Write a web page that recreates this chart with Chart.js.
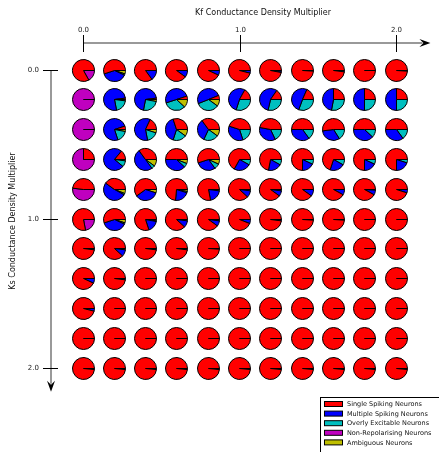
<!DOCTYPE html>
<html>
<head>
<meta charset="utf-8">
<script src="https://cdn.jsdelivr.net/npm/chart.js@4.4.0/dist/chart.umd.min.js"></script>
<style>
  html, body { margin: 0; padding: 0; background: #fff; }
  #wrap { position: relative; width: 439px; height: 452px; overflow: hidden; }
  #main { position: absolute; left: 0; top: 0; }
  .pie { position: absolute; }
</style>
</head>
<body>
<div id="wrap"><canvas id="main" width="439" height="452"></canvas></div>
<script>
// Grid values (columns = Kf multiplier, rows = Ks multiplier)
const kfValues = [0.0, 0.2, 0.4, 0.6, 0.8, 1.0, 1.2, 1.4, 1.6, 1.8, 2.0];
const ksValues = [0.0, 0.2, 0.4, 0.6, 0.8, 1.0, 1.2, 1.4, 1.6, 1.8, 2.0];
const tickValues = [0.0, 1.0, 2.0];

const categories = ['Single Spiking Neurons', 'Multiple Spiking Neurons', 'Overly Excitable Neurons',
  'Non-Repolarising Neurons', 'Ambiguous Neurons'];

// fraction of each neuron type, one row per Ks value
const singleSpiking = [
  [0.83, 0.55, 0.85, 0.90, 0.93, 0.96, 0.97, 0.99, 0.98, 1.00, 0.99],
  [0.00, 0.02, 0.02, 0.05, 0.06, 0.17, 0.15, 0.18, 0.25, 0.25, 0.25],
  [0.00, 0.05, 0.18, 0.30, 0.35, 0.45, 0.47, 0.50, 0.52, 0.50, 0.50],
  [0.25, 0.14, 0.35, 0.50, 0.55, 0.67, 0.72, 0.75, 0.70, 0.75, 0.75],
  [0.48, 0.40, 0.60, 0.75, 0.78, 0.88, 0.90, 0.90, 0.92, 0.92, 0.95],
  [0.78, 0.55, 0.80, 0.88, 0.90, 0.94, 0.98, 0.99, 0.99, 1.00, 1.00],
  [0.98, 0.88, 0.98, 0.98, 0.99, 1.00, 1.00, 1.00, 1.00, 1.00, 1.00],
  [0.93, 0.98, 1.00, 1.00, 1.00, 1.00, 1.00, 1.00, 1.00, 1.00, 1.00],
  [0.96, 1.00, 1.00, 1.00, 1.00, 1.00, 1.00, 1.00, 1.00, 1.00, 1.00],
  [1.00, 1.00, 1.00, 1.00, 1.00, 1.00, 1.00, 1.00, 1.00, 1.00, 1.00],
  [0.985, 0.985, 0.985, 0.985, 0.985, 0.985, 0.985, 0.985, 0.985, 0.985, 0.985]
];
const multipleSpiking = [
  [0.00, 0.38, 0.15, 0.10, 0.07, 0.04, 0.02, 0.01, 0.02, 0.00, 0.01],
  [0.00, 0.76, 0.70, 0.50, 0.50, 0.53, 0.55, 0.50, 0.47, 0.50, 0.50],
  [0.00, 0.75, 0.60, 0.40, 0.33, 0.35, 0.35, 0.35, 0.32, 0.38, 0.35],
  [0.00, 0.75, 0.50, 0.38, 0.30, 0.25, 0.20, 0.18, 0.22, 0.18, 0.20],
  [0.00, 0.52, 0.35, 0.22, 0.20, 0.10, 0.08, 0.10, 0.08, 0.07, 0.05],
  [0.00, 0.38, 0.17, 0.10, 0.08, 0.06, 0.02, 0.01, 0.01, 0.00, 0.00],
  [0.02, 0.10, 0.02, 0.02, 0.01, 0.00, 0.00, 0.00, 0.00, 0.00, 0.00],
  [0.07, 0.02, 0.00, 0.00, 0.00, 0.00, 0.00, 0.00, 0.00, 0.00, 0.00],
  [0.04, 0.00, 0.00, 0.00, 0.00, 0.00, 0.00, 0.00, 0.00, 0.00, 0.00],
  [0.00, 0.00, 0.00, 0.00, 0.00, 0.00, 0.00, 0.00, 0.00, 0.00, 0.00],
  [0.015, 0.015, 0.015, 0.015, 0.015, 0.015, 0.015, 0.015, 0.015, 0.015, 0.015]
];
const overlyExcitable = [
  [0.00, 0.02, 0.00, 0.00, 0.00, 0.00, 0.00, 0.00, 0.00, 0.00, 0.00],
  [0.00, 0.20, 0.25, 0.33, 0.34, 0.30, 0.28, 0.30, 0.28, 0.25, 0.25],
  [0.00, 0.17, 0.17, 0.20, 0.22, 0.20, 0.18, 0.15, 0.16, 0.12, 0.15],
  [0.00, 0.09, 0.05, 0.06, 0.08, 0.08, 0.08, 0.07, 0.08, 0.07, 0.05],
  [0.00, 0.02, 0.00, 0.02, 0.00, 0.02, 0.02, 0.00, 0.00, 0.01, 0.00],
  [0.00, 0.02, 0.01, 0.02, 0.01, 0.00, 0.00, 0.00, 0.00, 0.00, 0.00],
  [0.00, 0.00, 0.00, 0.00, 0.00, 0.00, 0.00, 0.00, 0.00, 0.00, 0.00],
  [0.00, 0.00, 0.00, 0.00, 0.00, 0.00, 0.00, 0.00, 0.00, 0.00, 0.00],
  [0.00, 0.00, 0.00, 0.00, 0.00, 0.00, 0.00, 0.00, 0.00, 0.00, 0.00],
  [0.00, 0.00, 0.00, 0.00, 0.00, 0.00, 0.00, 0.00, 0.00, 0.00, 0.00],
  [0.00, 0.00, 0.00, 0.00, 0.00, 0.00, 0.00, 0.00, 0.00, 0.00, 0.00]
];
const nonRepolarising = [
  [0.17, 0.00, 0.00, 0.00, 0.00, 0.00, 0.00, 0.00, 0.00, 0.00, 0.00],
  [1.00, 0.00, 0.00, 0.00, 0.00, 0.00, 0.00, 0.00, 0.00, 0.00, 0.00],
  [1.00, 0.00, 0.00, 0.00, 0.00, 0.00, 0.00, 0.00, 0.00, 0.00, 0.00],
  [0.75, 0.00, 0.00, 0.00, 0.00, 0.00, 0.00, 0.00, 0.00, 0.00, 0.00],
  [0.52, 0.00, 0.00, 0.00, 0.00, 0.00, 0.00, 0.00, 0.00, 0.00, 0.00],
  [0.22, 0.00, 0.00, 0.00, 0.00, 0.00, 0.00, 0.00, 0.00, 0.00, 0.00],
  [0.00, 0.00, 0.00, 0.00, 0.00, 0.00, 0.00, 0.00, 0.00, 0.00, 0.00],
  [0.00, 0.00, 0.00, 0.00, 0.00, 0.00, 0.00, 0.00, 0.00, 0.00, 0.00],
  [0.00, 0.00, 0.00, 0.00, 0.00, 0.00, 0.00, 0.00, 0.00, 0.00, 0.00],
  [0.00, 0.00, 0.00, 0.00, 0.00, 0.00, 0.00, 0.00, 0.00, 0.00, 0.00],
  [0.00, 0.00, 0.00, 0.00, 0.00, 0.00, 0.00, 0.00, 0.00, 0.00, 0.00]
];
const ambiguous = [
  [0.00, 0.05, 0.00, 0.00, 0.00, 0.00, 0.01, 0.00, 0.00, 0.00, 0.00],
  [0.00, 0.02, 0.03, 0.12, 0.10, 0.00, 0.00, 0.00, 0.00, 0.00, 0.00],
  [0.00, 0.03, 0.05, 0.10, 0.10, 0.00, 0.00, 0.00, 0.00, 0.00, 0.00],
  [0.00, 0.02, 0.10, 0.06, 0.07, 0.00, 0.00, 0.00, 0.00, 0.00, 0.00],
  [0.00, 0.06, 0.05, 0.03, 0.02, 0.00, 0.00, 0.00, 0.00, 0.00, 0.00],
  [0.00, 0.05, 0.02, 0.00, 0.01, 0.00, 0.00, 0.00, 0.00, 0.00, 0.00],
  [0.00, 0.02, 0.00, 0.00, 0.00, 0.00, 0.00, 0.00, 0.00, 0.00, 0.00],
  [0.00, 0.00, 0.00, 0.00, 0.00, 0.00, 0.00, 0.00, 0.00, 0.00, 0.00],
  [0.00, 0.00, 0.00, 0.00, 0.00, 0.00, 0.00, 0.00, 0.00, 0.00, 0.00],
  [0.00, 0.00, 0.00, 0.00, 0.00, 0.00, 0.00, 0.00, 0.00, 0.00, 0.00],
  [0.00, 0.00, 0.00, 0.00, 0.00, 0.00, 0.00, 0.00, 0.00, 0.00, 0.00]
];

const seriesList = [singleSpiking, multipleSpiking, overlyExcitable, nonRepolarising, ambiguous];
const colors = ['#ff0000', '#0000ff', '#00bfbf', '#bf00bf', '#bfbf00'];
const FONT = '"DejaVu Sans", sans-serif';

function drawArrow(ctx, tipX, tipY, dx, dy) {
  // matplotlib-ish notched arrow head
  const len = 11, half = 4, notch = 7;
  const px = -dy, py = dx;
  ctx.beginPath();
  ctx.moveTo(tipX, tipY);
  ctx.lineTo(tipX - dx * len + px * half, tipY - dy * len + py * half);
  ctx.lineTo(tipX - dx * notch, tipY - dy * notch);
  ctx.lineTo(tipX - dx * len - px * half, tipY - dy * len - py * half);
  ctx.closePath();
  ctx.fill();
}

const axesPlugin = {
  id: 'arrowAxes',
  afterDraw(chart) {
    const ctx = chart.ctx;
    const xs = chart.scales.x, ys = chart.scales.y;
    const axisY = 43, axisX = 51;
    ctx.save();

    // x axis (top)
    const xStart = xs.getPixelForValue(0), xTip = xs.getPixelForValue(2.22);
    ctx.strokeStyle = '#777'; ctx.lineWidth = 1.5;
    ctx.beginPath(); ctx.moveTo(xStart, axisY); ctx.lineTo(xTip - 8, axisY); ctx.stroke();
    ctx.fillStyle = '#000';
    drawArrow(ctx, xTip, axisY, 1, 0);

    // y axis (left, pointing down)
    const yStart = ys.getPixelForValue(0), yTip = ys.getPixelForValue(2.16);
    ctx.beginPath(); ctx.moveTo(axisX, yStart); ctx.lineTo(axisX, yTip - 8); ctx.stroke();
    drawArrow(ctx, axisX, yTip, 0, 1);

    // ticks and labels
    ctx.strokeStyle = '#000'; ctx.lineWidth = 1;
    ctx.fillStyle = '#222';
    ctx.font = '7px ' + FONT;
    tickValues.forEach(v => {
      const x = Math.round(xs.getPixelForValue(v)) + 0.5;
      ctx.beginPath(); ctx.moveTo(x, axisY - 8); ctx.lineTo(x, axisY + 9); ctx.stroke();
      ctx.textAlign = 'center'; ctx.textBaseline = 'middle';
      ctx.fillText(v.toFixed(1), x, 30);

      const y = Math.round(ys.getPixelForValue(v)) + 0.5;
      ctx.beginPath(); ctx.moveTo(axisX - 8, y); ctx.lineTo(axisX + 7, y); ctx.stroke();
      ctx.textAlign = 'right';
      ctx.fillText(v.toFixed(1), 39, y);
    });

    // axis titles
    ctx.font = '8px ' + FONT;
    ctx.fillStyle = '#111';
    ctx.textAlign = 'center'; ctx.textBaseline = 'middle';
    ctx.fillText('Kf Conductance Density Multiplier', 263, 13);
    ctx.save();
    ctx.translate(13, 221);
    ctx.rotate(-Math.PI / 2);
    ctx.fillText('Ks Conductance Density Multiplier', 0, 0);
    ctx.restore();

    // legend box
    ctx.strokeStyle = '#000'; ctx.lineWidth = 1;
    ctx.fillStyle = '#fff';
    ctx.fillRect(320.5, 397.5, 130, 60);
    ctx.strokeRect(320.5, 397.5, 130, 60);
    ctx.font = '6.5px ' + FONT;
    ctx.textAlign = 'left';
    categories.forEach((name, i) => {
      const cy = 404 + i * 9.6;
      ctx.fillStyle = colors[i];
      ctx.fillRect(324, cy - 2.5, 18, 5);
      ctx.strokeRect(324.5, cy - 2.5, 18, 5);
      ctx.fillStyle = '#111';
      ctx.fillText(name, 347, cy + 0.5);
    });
    ctx.restore();
  }
};

const mainChart = new Chart(document.getElementById('main'), {
  type: 'scatter',
  data: { datasets: [] },
  options: {
    responsive: false,
    animation: false,
    events: [],
    layout: { padding: { left: 83, right: 43, top: 70, bottom: 84 } },
    scales: {
      x: { type: 'linear', min: 0, max: 2, display: false },
      y: { type: 'linear', min: 0, max: 2, reverse: true, display: false }
    },
    plugins: { legend: { display: false }, tooltip: { enabled: false } }
  },
  plugins: [axesPlugin]
});

// one small pie per grid cell, centred on the main chart's scale positions
const wrap = document.getElementById('wrap');
const PIE = 25;
ksValues.forEach((ks, r) => {
  kfValues.forEach((kf, c) => {
    const cx = mainChart.scales.x.getPixelForValue(kf);
    const cy = mainChart.scales.y.getPixelForValue(ks);
    const cv = document.createElement('canvas');
    cv.className = 'pie';
    cv.width = PIE; cv.height = PIE;
    cv.style.left = (cx - PIE / 2) + 'px';
    cv.style.top = (cy - PIE / 2) + 'px';
    wrap.appendChild(cv);
    // matplotlib draws counter-clockwise from 3 o'clock; Chart.js goes clockwise,
    // so feed the slices in reverse and start at 90 degrees
    const vals = seriesList.map(s => s[r][c]).reverse();
    new Chart(cv, {
      type: 'pie',
      data: {
        labels: categories.slice().reverse(),
        datasets: [{
          data: vals,
          backgroundColor: colors.slice().reverse(),
          borderColor: '#000',
          borderWidth: 1
        }]
      },
      options: {
        responsive: false,
        animation: false,
        events: [],
        rotation: 90,
        layout: { padding: 1 },
        plugins: { legend: { display: false }, tooltip: { enabled: false } }
      }
    });
  });
});
</script>
</body>
</html>
